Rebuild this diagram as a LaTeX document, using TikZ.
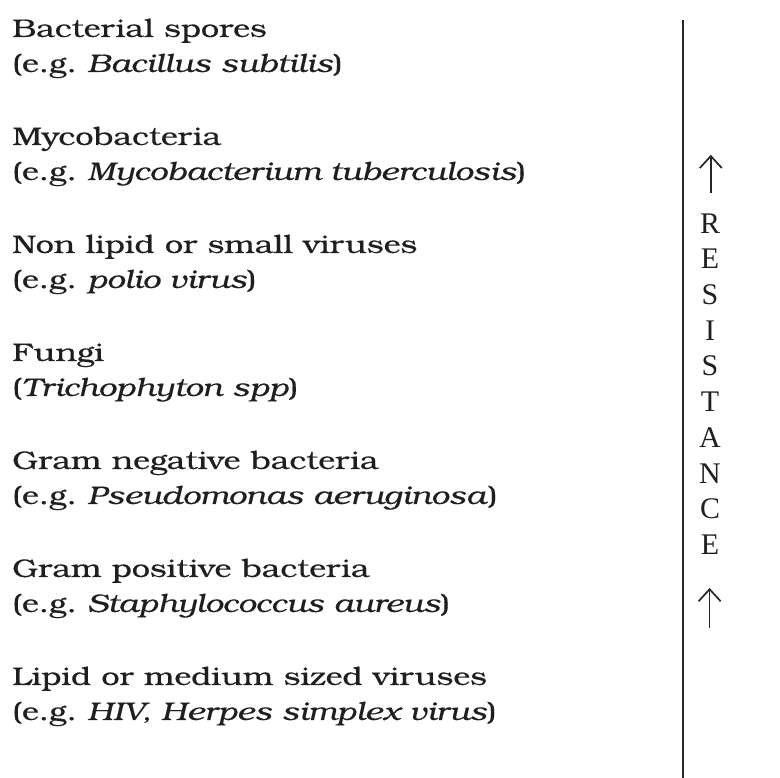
\documentclass[tikz,border=0pt]{standalone}
\usepackage{fontspec}
\setmainfont{TeX Gyre Bonum}[FakeStretch=1.27,FakeBold=0.5]
\newfontfamily\resfont{Liberation Serif}
\usetikzlibrary{arrows.meta}
\tikzset{
  organism/.style={anchor=base west,align=left,inner sep=0pt,text=black!88,
    font=\fontsize{18.1}{24.9}\selectfont},
  resword/.style={align=center,inner sep=0pt,text=black!88,
    font=\resfont\fontsize{21.3}{25.4}\selectfont},
  scaleln/.style={line width=1.6pt,black!85},
  resarr/.style={-{Straight Barb[length=3mm,width=5.5mm]},line width=1.2pt,black!85},
}
\begin{document}
\begin{tikzpicture}
  \useasboundingbox (0,0) rectangle (19.5,19.45);
  % organisms, most resistant at the top (anchor is the base of the 2nd line)
  \node[organism] (spores) at (0.3,17.65) {Bacterial spores\\(e.g.\ \textit{Bacillus subtilis})};
  \node[organism] (myco) at (0.3,14.95) {Mycobacteria\\(e.g.\ \textit{Mycobacterium tuberculosis})};
  \node[organism] (smallvir) at (0.3,12.25) {Non lipid or small viruses\\(e.g.\ \textit{polio virus})};
  \node[organism] (fungi) at (0.3,9.55) {Fungi\\(\textit{Trichophyton spp})};
  \node[organism] (gramneg) at (0.3,6.85) {Gram negative bacteria\\(e.g.\ \textit{Pseudomonas aeruginosa})};
  \node[organism] (grampos) at (0.3,4.15) {Gram positive bacteria\\(e.g.\ \textit{Staphylococcus aureus})};
  \node[organism] (lipidvir) at (0.3,1.45) {Lipid or medium sized viruses\\(e.g.\ \textit{HIV, Herpes simplex virus})};
  % resistance scale
  \coordinate (scaletop) at (17.075,18.95);
  \coordinate (scalebot) at (17.075,0);
  \draw[scaleln] (scaletop) -- (scalebot);
  \node[resword] (res) at (17.75,9.85) {R\\E\\S\\I\\S\\T\\A\\N\\C\\E};
  \coordinate (toptail) at (17.77,14.63);
  \coordinate (tophead) at (17.77,15.58);
  \draw[resarr] (toptail) -- (tophead);
  \coordinate (bottail) at (17.74,3.75);
  \coordinate (bothead) at (17.74,4.75);
  \draw[resarr] (bottail) -- (bothead);
\end{tikzpicture}
\end{document}
